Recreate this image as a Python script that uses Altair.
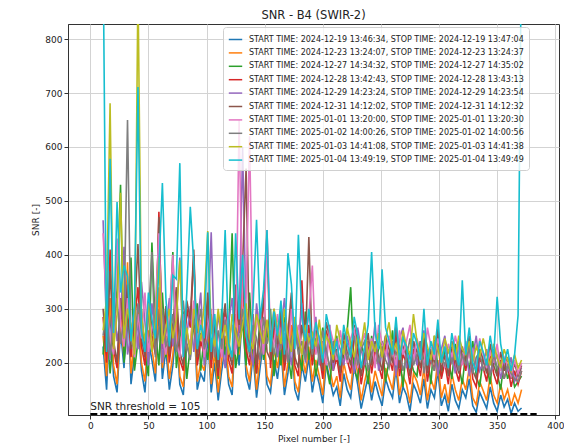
import altair as alt
import pandas as pd

pixels = list(range(11, 372, 3))

labels = [
    "START TIME: 2024-12-19 13:46:34, STOP TIME: 2024-12-19 13:47:04",
    "START TIME: 2024-12-23 13:24:07, STOP TIME: 2024-12-23 13:24:37",
    "START TIME: 2024-12-27 14:34:32, STOP TIME: 2024-12-27 14:35:02",
    "START TIME: 2024-12-28 13:42:43, STOP TIME: 2024-12-28 13:43:13",
    "START TIME: 2024-12-29 14:23:24, STOP TIME: 2024-12-29 14:23:54",
    "START TIME: 2024-12-31 14:12:02, STOP TIME: 2024-12-31 14:12:32",
    "START TIME: 2025-01-01 13:20:00, STOP TIME: 2025-01-01 13:20:30",
    "START TIME: 2025-01-02 14:00:26, STOP TIME: 2025-01-02 14:00:56",
    "START TIME: 2025-01-03 14:41:08, STOP TIME: 2025-01-03 14:41:38",
    "START TIME: 2025-01-04 13:49:19, STOP TIME: 2025-01-04 13:49:49",
]
colors = ["#1f77b4", "#ff7f0e", "#2ca02c", "#d62728", "#9467bd",
          "#8c564b", "#e377c2", "#7f7f7f", "#bcbd22", "#17becf"]

s1 = [230, 150, 300, 175, 145, 260, 190, 330, 160, 215,
      280, 185, 145, 240, 205, 165, 300, 170, 225, 150,
      195, 270, 160, 140, 235, 210, 290, 150, 180, 165,
      250, 145, 200, 130, 185, 230, 160, 140, 265, 195,
      300, 175, 150, 215, 135, 190, 240, 160, 145, 205,
      170, 225, 140, 180, 250, 150, 130, 195, 165, 210,
      145, 185, 160, 125, 200, 170, 140, 155, 120, 180,
      150, 135, 195, 160, 115, 145, 175, 130, 165, 140,
      120, 170, 150, 135, 190, 125, 155, 140, 110, 160,
      145, 125, 170, 115, 150, 135, 185, 120, 140, 110,
      160, 130, 115, 150, 135, 170, 120, 108, 145, 130,
      115, 155, 125, 110, 140, 118, 132, 106, 125, 110,
      116]
s2 = [250, 175, 320, 195, 160, 280, 210, 386, 180, 240,
      300, 200, 165, 260, 225, 180, 340, 190, 250, 170,
      215, 290, 175, 155, 255, 230, 310, 165, 200, 185,
      275, 160, 220, 145, 205, 250, 175, 155, 290, 215,
      330, 195, 165, 235, 150, 210, 260, 175, 160, 225,
      190, 245, 155, 200, 270, 165, 145, 215, 180, 230,
      165, 205, 175, 140, 220, 190, 155, 175, 135, 200,
      170, 150, 215, 180, 130, 165, 195, 145, 185, 160,
      138, 190, 170, 150, 210, 140, 175, 160, 125, 180,
      165, 140, 190, 130, 170, 150, 205, 135, 160, 125,
      180, 150, 130, 170, 150, 190, 135, 122, 165, 148,
      130, 175, 140, 125, 160, 132, 150, 120, 142, 125,
      150]
s3 = [215, 290, 180, 250, 335, 530, 200, 265, 395, 185,
      240, 300, 215, 175, 423, 260, 195, 330, 210, 275,
      405, 190, 245, 295, 170, 230, 265, 310, 185, 250,
      205, 280, 235, 170, 300, 215, 250, 440, 190, 230,
      275, 195, 330, 220, 180, 290, 205, 245, 300, 175,
      240, 195, 285, 215, 170, 260, 225, 185, 295, 205,
      240, 175, 220, 265, 195, 160, 230, 250, 180, 215,
      260, 340, 185, 170, 235, 210, 160, 250, 195, 225,
      240, 165, 205, 260, 180, 215, 155, 230, 210, 185,
      175, 240, 200, 215, 160, 250, 190, 175, 225, 205,
      170, 235, 195, 160, 220, 185, 240, 175, 155, 210,
      195, 160, 225, 180, 150, 205, 170, 190, 155, 165,
      175]
s4 = [285, 200, 410, 225, 190, 300, 250, 330, 210, 275,
      340, 230, 195, 300, 250, 215, 480, 225, 290, 200,
      255, 325, 205, 185, 300, 265, 400, 195, 240, 215,
      315, 190, 260, 175, 245, 295, 205, 180, 330, 255,
      370, 225, 195, 275, 180, 250, 305, 437, 190, 265,
      220, 285, 185, 240, 315, 195, 175, 353, 210, 270,
      195, 245, 215, 170, 260, 230, 185, 210, 165, 240,
      205, 180, 255, 220, 160, 200, 240, 180, 225, 195,
      170, 235, 210, 185, 255, 175, 215, 200, 160, 225,
      205, 175, 235, 165, 210, 185, 250, 170, 200, 160,
      225, 190, 165, 215, 185, 235, 170, 155, 210, 190,
      165, 220, 180, 160, 205, 170, 195, 155, 185, 160,
      185]
s5 = [464, 260, 205, 330, 240, 280, 415, 215, 250, 300,
      225, 350, 275, 195, 310, 245, 440, 200, 260, 320,
      230, 285, 395, 210, 250, 305, 220, 270, 330, 195,
      260, 442, 215, 290, 240, 190, 275, 320, 225, 260,
      600, 280, 230, 195, 310, 250, 215, 270, 235, 300,
      210, 260, 320, 240, 195, 275, 230, 310, 200, 255,
      230, 285, 195, 240, 210, 270, 185, 245, 225, 195,
      250, 215, 180, 265, 225, 195, 240, 210, 275, 185,
      220, 250, 195, 230, 175, 245, 265, 190, 215, 240,
      195, 230, 260, 185, 210, 240, 175, 225, 250, 190,
      215, 180, 240, 205, 230, 175, 210, 250, 185, 200,
      225, 180, 195, 215, 170, 200, 185, 210, 165, 180,
      190]
s6 = [300, 220, 370, 240, 200, 320, 265, 345, 225, 290,
      420, 245, 210, 315, 265, 230, 470, 240, 305, 215,
      270, 340, 220, 195, 315, 280, 410, 210, 255, 230,
      330, 205, 275, 190, 260, 310, 220, 195, 345, 270,
      385, 560, 210, 290, 195, 265, 320, 220, 205, 280,
      235, 300, 200, 255, 330, 210, 190, 270, 225, 433,
      210, 260, 230, 185, 275, 245, 200, 225, 180, 255,
      220, 195, 270, 235, 175, 215, 255, 195, 240, 210,
      185, 250, 225, 200, 270, 190, 230, 215, 175, 240,
      220, 190, 250, 180, 225, 200, 265, 185, 215, 175,
      240, 205, 180, 230, 200, 250, 185, 170, 225, 205,
      180, 235, 195, 175, 220, 185, 210, 170, 200, 175,
      195]
s7 = [440, 300, 245, 215, 430, 270, 230, 320, 255, 210,
      290, 245, 330, 220, 265, 305, 440, 250, 215, 285,
      400, 240, 210, 290, 260, 225, 315, 245, 280, 210,
      260, 300, 225, 255, 210, 285, 240, 270, 215, 650,
      280, 320, 620, 230, 265, 300, 215, 446, 250, 235,
      290, 230, 255, 205, 300, 240, 270, 215, 250, 285,
      380, 215, 250, 230, 195, 265, 240, 205, 260, 220,
      200, 245, 265, 190, 230, 255, 210, 245, 190, 270,
      235, 210, 250, 225, 195, 260, 215, 240, 270, 200,
      245, 220, 195, 265, 230, 205, 245, 215, 190, 235,
      210, 250, 220, 195, 240, 210, 225, 190, 245, 215,
      190, 220, 200, 235, 185, 210, 195, 175, 205, 180,
      200]
s8 = [250, 300, 215, 270, 320, 235, 280, 650, 240, 225,
      310, 260, 225, 285, 405, 210, 265, 300, 230, 255,
      290, 220, 260, 315, 235, 205, 280, 255, 300, 225,
      245, 290, 210, 260, 225, 280, 240, 205, 265, 230,
      300, 250, 215, 270, 245, 205, 285, 235, 260, 215,
      255, 225, 275, 200, 245, 265, 215, 240, 205, 250,
      215, 245, 205, 260, 225, 190, 240, 215, 200, 235,
      205, 230, 250, 195, 225, 240, 185, 215, 235, 200,
      230, 205, 190, 240, 215, 230, 185, 210, 245, 195,
      215, 240, 180, 225, 205, 185, 230, 210, 195, 225,
      200, 220, 185, 215, 195, 230, 180, 210, 220, 185,
      205, 175, 215, 190, 200, 170, 195, 180, 170, 165,
      185]
s9 = [260, 320, 681, 225, 290, 515, 245, 300, 270, 215,
      900, 285, 240, 310, 220, 275, 395, 235, 265, 300,
      245, 280, 390, 230, 265, 215, 300, 275, 240, 310,
      444, 260, 230, 300, 245, 270, 215, 290, 255, 230,
      270, 310, 245, 225, 290, 260, 235, 280, 220, 300,
      265, 235, 300, 250, 220, 285, 245, 215, 270, 240,
      255, 230, 280, 215, 250, 235, 205, 270, 240, 215,
      265, 235, 210, 250, 230, 275, 205, 240, 220, 255,
      210, 245, 275, 220, 235, 205, 260, 230, 215, 290,
      240, 215, 255, 230, 205, 250, 225, 200, 245, 220,
      235, 205, 250, 225, 215, 240, 200, 230, 210, 245,
      215, 195, 235, 210, 190, 225, 205, 185, 215, 190,
      205]
s10 = [960, 220, 578, 255, 498, 330, 380, 360, 240, 305,
       711, 255, 220, 330, 280, 245, 375, 533, 320, 230,
       362, 355, 570, 210, 330, 489, 385, 225, 270, 245,
       442, 220, 290, 205, 275, 446, 235, 210, 440, 280,
       400, 250, 220, 305, 465, 280, 335, 446, 220, 295,
       250, 315, 215, 403, 345, 225, 437, 285, 240, 300,
       225, 275, 245, 200, 290, 260, 215, 240, 195, 270,
       235, 210, 285, 250, 190, 230, 270, 405, 255, 225,
       373, 265, 240, 215, 285, 205, 245, 230, 190, 255,
       235, 205, 300, 195, 240, 215, 280, 200, 230, 190,
       255, 220, 195, 353, 215, 265, 200, 185, 240, 220,
       195, 250, 210, 322, 235, 200, 225, 185, 215, 288,
       1000]

series_values = [s1, s2, s3, s4, s5, s6, s7, s8, s9, s10]

threshold = 105
threshold_text = "SNR threshold = 105"
threshold_span = [0, 384]

rows = []
for lab, vals in zip(labels, series_values):
    for p, v in zip(pixels, vals):
        rows.append({"pixel": p, "snr": v, "series": lab})
df = pd.DataFrame(rows)

thr_df = pd.DataFrame({"x": [threshold_span[0]], "x2": [threshold_span[1]],
                       "y": [threshold], "label": [threshold_text]})

FONT = "DejaVu Sans"
xscale = alt.Scale(domain=[-19.2, 403.2], nice=False, zero=False)
yscale = alt.Scale(domain=[103, 828], nice=False, zero=False)
xaxis = alt.Axis(values=list(range(0, 401, 50)), title="Pixel number [-]")
yaxis = alt.Axis(values=list(range(200, 801, 100)), title="SNR [-]")
cscale = alt.Scale(domain=labels, range=colors)
legend = alt.Legend(
    title=None, orient="none", legendX=155, legendY=3,
    symbolType="stroke", symbolSize=180, symbolStrokeWidth=1.5,
    labelFontSize=8, labelFont=FONT, labelColor="#222222", labelLimit=500,
    labelOffset=6, rowPadding=1.4,
    fillColor="rgba(255,255,255,0.8)", strokeColor="#d0d0d0",
    padding=5, cornerRadius=3,
)

layers = []
for lab in labels:
    layers.append(
        alt.Chart(df)
        .transform_filter(alt.FieldEqualPredicate(field="series", equal=lab))
        .mark_line(strokeWidth=1.6, clip=True)
        .encode(
            x=alt.X("pixel:Q", scale=xscale, axis=xaxis),
            y=alt.Y("snr:Q", scale=yscale, axis=yaxis),
            color=alt.Color("series:N", scale=cscale, legend=legend, sort=labels),
        )
    )

thr_rule = alt.Chart(thr_df).mark_rule(color="black", strokeWidth=2, strokeDash=[7, 3]).encode(
    x="x:Q", x2="x2:Q", y="y:Q"
)
thr_text = alt.Chart(thr_df).mark_text(
    align="left", baseline="bottom", dy=-2, fontSize=10.5, font=FONT, color="#222222"
).encode(x="x:Q", y="y:Q", text="label:N")

chart = (
    alt.layer(*layers, thr_rule, thr_text)
    .properties(
        width=491, height=391,
        title=alt.TitleParams("SNR - B4 (SWIR-2)", fontSize=11.5, font=FONT,
                              fontWeight="normal", anchor="middle", offset=3, color="#222222"),
        autosize=alt.AutoSizeParams(type="none"),
        padding={"left": 60, "top": 16, "right": 5, "bottom": 30},
    )
    .configure_view(stroke="#333333", strokeWidth=1)
    .configure_axis(
        labelFont=FONT, titleFont=FONT, labelFontSize=9, titleFontSize=9,
        titleFontWeight="normal", labelColor="#222222", titleColor="#222222",
        gridColor="#d3d3d3", gridWidth=1, domainColor="#333333",
        tickColor="#333333", tickSize=4,
    )
)

chart.save("out.html", embed_options={"renderer": "svg", "actions": False})
